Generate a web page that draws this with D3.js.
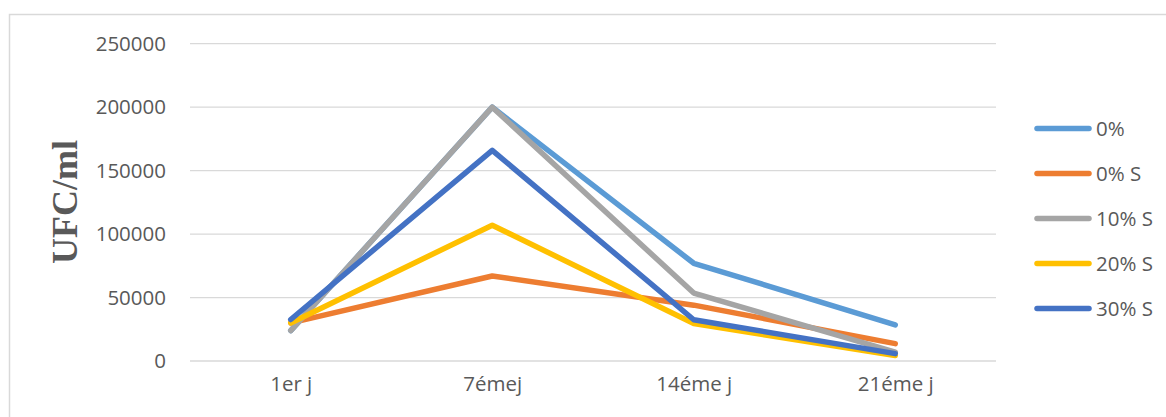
<!DOCTYPE html>
<html>
<head>
<meta charset="utf-8">
<script src="https://cdn.jsdelivr.net/npm/d3@7"></script>
<style>
  html, body { margin: 0; padding: 0; background: #fff; }
  svg { display: block; }
</style>
</head>
<body>
<svg id="chart" width="1166" height="417"></svg>
<script>
// Sampling days and colony counts (UFC/ml) for each formulation
const days = ["1er j", "7émej", "14éme j", "21éme j"];
const seriesNames = ["0%", "0% S", "10% S", "20% S", "30% S"];
const values0 = [24000, 200000, 77000, 28500];
const values0S = [30000, 67000, 44000, 13700];
const values10S = [24000, 200000, 53500, 7000];
const values20S = [30000, 107000, 29500, 4300];
const values30S = [32700, 166000, 32500, 5800];
const yTicks = [0, 50000, 100000, 150000, 200000, 250000];
const colors = ["#5B9BD5", "#ED7D31", "#A5A5A5", "#FFC000", "#4472C4"];

const series = [values0, values0S, values10S, values20S, values30S].map((v, i) => ({
  name: seriesNames[i],
  color: colors[i],
  values: v
}));

const svg = d3.select("#chart");
const textColor = "#595959";
const font = "'Open Sans', 'Liberation Sans', sans-serif";

// Chart frame
svg.append("rect")
  .attr("x", 9.5).attr("y", 14.5)
  .attr("width", 1200).attr("height", 420)
  .attr("fill", "none")
  .attr("stroke", "#d9d9d9")
  .attr("stroke-width", 1.5);

const plot = { left: 190, right: 996, top: 43.7, bottom: 361 };

const x = d3.scalePoint().domain(days).range([plot.left, plot.right]).padding(0.5);
const y = d3.scaleLinear().domain([0, 250000]).range([plot.bottom, plot.top]);

// Horizontal gridlines
svg.append("g")
  .selectAll("line")
  .data(yTicks)
  .join("line")
  .attr("x1", plot.left).attr("x2", plot.right)
  .attr("y1", d => y(d)).attr("y2", d => y(d))
  .attr("stroke", "#d9d9d9")
  .attr("stroke-width", 1.3);

// Y axis labels
const yAxis = d3.axisLeft(y).tickValues(yTicks).tickFormat(d3.format("d")).tickSize(0).tickPadding(0);
const yg = svg.append("g").attr("transform", "translate(166,0)").call(yAxis);
yg.select(".domain").remove();
yg.selectAll("text")
  .attr("fill", textColor)
  .style("font-family", font)
  .style("font-size", "20.5px");

// X axis labels
const xAxis = d3.axisBottom(x).tickSize(0).tickPadding(0);
const xg = svg.append("g").attr("transform", "translate(0,376)").call(xAxis);
xg.select(".domain").remove();
xg.selectAll("text")
  .attr("fill", textColor)
  .attr("dy", "0.71em")
  .style("font-family", font)
  .style("font-size", "20.5px");

// Y axis title
svg.append("text")
  .attr("transform", "translate(77,202) rotate(-90)")
  .attr("text-anchor", "middle")
  .attr("fill", textColor)
  .style("font-family", "'Liberation Serif', 'Times New Roman', serif")
  .style("font-weight", "bold")
  .style("font-size", "36px")
  .text("UFC/ml");

// Series lines
const line = d3.line().x((d, i) => x(days[i])).y(d => y(d));
svg.append("g")
  .selectAll("path")
  .data(series)
  .join("path")
  .attr("d", d => line(d.values))
  .attr("fill", "none")
  .attr("stroke", d => d.color)
  .attr("stroke-width", 5.5)
  .attr("stroke-linecap", "round")
  .attr("stroke-linejoin", "round");

// Legend
const legend = svg.append("g")
  .selectAll("g")
  .data(series)
  .join("g")
  .attr("transform", (d, i) => `translate(0,${128.5 + i * 45})`);
legend.append("line")
  .attr("x1", 1037).attr("x2", 1089)
  .attr("stroke", d => d.color)
  .attr("stroke-width", 5.5)
  .attr("stroke-linecap", "round");
legend.append("text")
  .attr("x", 1096)
  .attr("dy", "0.36em")
  .attr("fill", textColor)
  .style("font-family", font)
  .style("font-size", "20.5px")
  .text(d => d.name);
</script>
</body>
</html>
